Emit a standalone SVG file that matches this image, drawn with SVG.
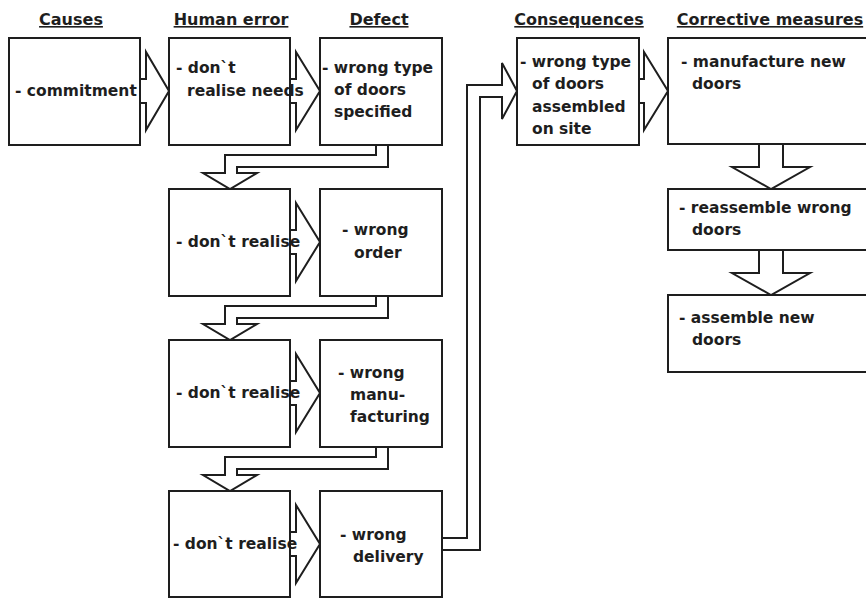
<svg xmlns="http://www.w3.org/2000/svg" width="866" height="598" viewBox="0 0 866 598">
<style>
  .box{fill:#fff;stroke:#1e1e1e;stroke-width:2}
  .arr{fill:#fff;stroke:#1e1e1e;stroke-width:2;stroke-linejoin:miter}
  text{font-family:"DejaVu Sans","Liberation Sans",sans-serif;font-weight:bold;font-size:15.5px;fill:#1e1e1e}
  .hdr{font-size:16px;text-anchor:middle;text-decoration:underline}
</style>
<rect width="866" height="598" fill="#fff"/>
<g id="headers">
  <text class="hdr" x="71" y="25">Causes</text>
  <text class="hdr" x="231" y="25">Human error</text>
  <text class="hdr" x="379" y="25">Defect</text>
  <text class="hdr" x="579" y="25">Consequences</text>
  <text class="hdr" x="770" y="25">Corrective measures</text>
</g>
<g id="connectors">
  <path class="arr" d="M140,79 H146 V52 L169,91 L146,130 V103 H140"/>
  <path class="arr" d="M290,79 H296 V52 L320,91 L296,130 V103 H290"/>
  <path class="arr" d="M290,230 H296 V203 L320,242 L296,281 V254 H290"/>
  <path class="arr" d="M290,381 H296 V354 L320,393 L296,432 V405 H290"/>
  <path class="arr" d="M290,532 H296 V505 L320,544 L296,583 V556 H290"/>
  <path class="arr" d="M639,79 H644 V52 L668,91 L644,130 V103 H639"/>
  <path class="arr" d="M376,145 V155 H225 V173 H203 L230,189 L257,173 H237 V167 H388 V145"/>
  <path class="arr" d="M376,296 V306 H225 V324 H203 L230,340 L257,324 H237 V318 H388 V296"/>
  <path class="arr" d="M376,447 V457 H225 V475 H203 L230,491 L257,475 H237 V469 H388 V447"/>
  <path class="arr" d="M442,538 H467 V85 H502 V63 L517,91 L502,119 V97 H480 V550 H442"/>
  <path class="arr" d="M759,144 V167 H732 L771,189 L810,167 H783 V144"/>
  <path class="arr" d="M759,250 V273 H732 L771,295 L810,273 H783 V250"/>
</g>
<g id="n-causes">
  <rect class="box" x="9" y="38" width="131" height="107"/>
  <text x="15" y="96">- commitment</text>
</g>
<g id="n-human1">
  <rect class="box" x="169" y="38" width="121" height="107"/>
  <text x="176" y="73">- don`t</text>
  <text x="187" y="96">realise needs</text>
</g>
<g id="n-defect1">
  <rect class="box" x="320" y="38" width="122" height="107"/>
  <text x="322" y="73">- wrong type</text>
  <text x="334" y="95">of doors</text>
  <text x="334" y="117">specified</text>
</g>
<g id="n-human2">
  <rect class="box" x="169" y="189" width="121" height="107"/>
  <text x="176" y="247">- don`t realise</text>
</g>
<g id="n-defect2">
  <rect class="box" x="320" y="189" width="122" height="107"/>
  <text x="342" y="235">- wrong</text>
  <text x="354" y="258">order</text>
</g>
<g id="n-human3">
  <rect class="box" x="169" y="340" width="121" height="107"/>
  <text x="176" y="398">- don`t realise</text>
</g>
<g id="n-defect3">
  <rect class="box" x="320" y="340" width="122" height="107"/>
  <text x="338" y="378">- wrong</text>
  <text x="350" y="400">manu-</text>
  <text x="350" y="422">facturing</text>
</g>
<g id="n-human4">
  <rect class="box" x="169" y="491" width="121" height="106"/>
  <text x="173" y="549">- don`t realise</text>
</g>
<g id="n-defect4">
  <rect class="box" x="320" y="491" width="122" height="106"/>
  <text x="340" y="540">- wrong</text>
  <text x="353" y="562">delivery</text>
</g>
<g id="n-consequences">
  <rect class="box" x="517" y="38" width="122" height="107"/>
  <text x="520" y="67">- wrong type</text>
  <text x="532" y="89">of doors</text>
  <text x="532" y="112">assembled</text>
  <text x="532" y="134">on site</text>
</g>
<g id="n-corr1">
  <rect class="box" x="668" y="38" width="202" height="106"/>
  <text x="681" y="67">- manufacture new</text>
  <text x="692" y="89">doors</text>
</g>
<g id="n-corr2">
  <rect class="box" x="668" y="189" width="202" height="61"/>
  <text x="679" y="213">- reassemble wrong</text>
  <text x="692" y="235">doors</text>
</g>
<g id="n-corr3">
  <rect class="box" x="668" y="295" width="202" height="77"/>
  <text x="679" y="323">- assemble new</text>
  <text x="692" y="345">doors</text>
</g>
</svg>
